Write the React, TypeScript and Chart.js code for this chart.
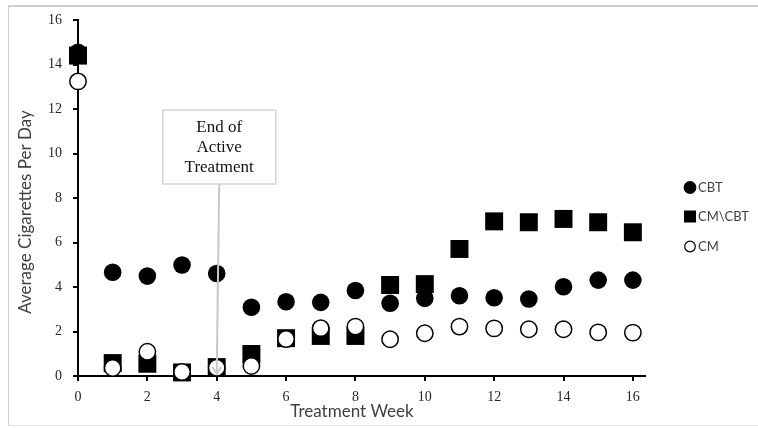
import React, { useEffect, useRef } from "react";
import { Chart, registerables } from "chart.js";

Chart.register(...registerables);

const weeks = [0, 1, 2, 3, 4, 5, 6, 7, 8, 9, 10, 11, 12, 13, 14, 15, 16];
const cbt = [14.55, 4.66, 4.49, 4.99, 4.61, 3.09, 3.34, 3.31, 3.84, 3.27, 3.49, 3.61, 3.52, 3.46, 4.01, 4.31, 4.31];
const cmcbt = [14.4, 0.58, 0.55, 0.16, 0.4, 0.99, 1.7, 1.8, 1.8, 4.09, 4.13, 5.71, 6.95, 6.91, 7.06, 6.91, 6.46];
const cm = [13.24, 0.36, 1.09, 0.18, 0.37, 0.45, 1.66, 2.15, 2.22, 1.65, 1.92, 2.22, 2.14, 2.1, 2.1, 1.96, 1.95];

const seriesNames = ["CBT", "CM\\CBT", "CM"];
const xTicks = [0, 2, 4, 6, 8, 10, 12, 14, 16];
const yTicks = [0, 2, 4, 6, 8, 10, 12, 14, 16];
const xTitle = "Treatment Week";
const yTitle = "Average Cigarettes Per Day";
const annotationLines = ["End of", "Active", "Treatment"];
const annotationWeek = 4;

const toPoints = (vals: number[]) => weeks.map((w, i) => ({ x: w, y: vals[i] }));

const annotationPlugin = {
  id: "endAnnotation",
  afterDatasetsDraw(chart: any) {
    const { ctx, scales } = chart;
    const xs = scales.x;
    const ys = scales.y;
    const cx = xs.getPixelForValue(annotationWeek) + 2.5;
    const top = ys.getPixelForValue(11.95);
    const bottom = ys.getPixelForValue(8.63);
    const w = 113;
    const tipX = xs.getPixelForValue(annotationWeek);
    const tipY = ys.getPixelForValue(0.1);
    ctx.save();
    ctx.strokeStyle = "#c8c8c8";
    ctx.lineWidth = 2;
    ctx.beginPath();
    ctx.moveTo(cx, bottom);
    ctx.lineTo(tipX, tipY);
    ctx.stroke();
    ctx.beginPath();
    ctx.moveTo(tipX - 4.5, tipY - 7);
    ctx.lineTo(tipX, tipY);
    ctx.lineTo(tipX + 4.5, tipY - 7);
    ctx.stroke();
    ctx.fillStyle = "#ffffff";
    ctx.fillRect(cx - w / 2, top, w, bottom - top);
    ctx.strokeStyle = "#d4d4d4";
    ctx.lineWidth = 1.5;
    ctx.strokeRect(cx - w / 2, top, w, bottom - top);
    ctx.fillStyle = "#111";
    ctx.font = '17px "Liberation Serif"';
    ctx.textAlign = "center";
    ctx.textBaseline = "middle";
    annotationLines.forEach((t, i) => {
      ctx.fillText(t, cx, top + 17 + i * 20);
    });
    ctx.restore();
  },
};

const titlesAndLegendPlugin = {
  id: "titlesLegend",
  afterDraw(chart: any) {
    const { ctx } = chart;
    ctx.save();
    // axis titles
    ctx.fillStyle = "#404040";
    ctx.font = "17px Lato";
    ctx.textAlign = "center";
    ctx.textBaseline = "middle";
    ctx.fillText(xTitle, 352, 412);
    ctx.translate(26, 212);
    ctx.rotate(-Math.PI / 2);
    ctx.fillText(yTitle, 0, 0);
    ctx.setTransform(1, 0, 0, 1, 0, 0);
    // legend
    const mx = 690;
    const ys0 = [187.5, 216.5, 246.5];
    chart.data.datasets.forEach((ds: any, i: number) => {
      const y = ys0[i];
      ctx.beginPath();
      if (ds.pointStyle === "rect") {
        ctx.fillStyle = "#000";
        ctx.fillRect(mx - 6, y - 6, 12, 12);
      } else {
        ctx.arc(mx, y, ds.backgroundColor === "#ffffff" ? 5.3 : 5.8, 0, Math.PI * 2);
        ctx.fillStyle = ds.backgroundColor;
        ctx.fill();
        ctx.strokeStyle = "#000";
        ctx.lineWidth = 1.2;
        ctx.stroke();
      }
      ctx.fillStyle = "#404040";
      ctx.font = "13px Lato";
      ctx.textAlign = "left";
      ctx.textBaseline = "middle";
      ctx.fillText(ds.label, mx + 8, y + 0.5);
    });
    ctx.restore();
  },
};

export default function App() {
  const ref = useRef<HTMLCanvasElement>(null);
  useEffect(() => {
    if (!ref.current) return;
    const chart = new Chart(ref.current, {
      type: "scatter",
      data: {
        datasets: [
          {
            label: seriesNames[0],
            data: toPoints(cbt),
            pointStyle: "circle",
            pointRadius: 8.8,
            pointHoverRadius: 8.8,
            backgroundColor: "#000000",
            borderColor: "#000000",
            borderWidth: 0,
            order: 2,
            clip: false as any,
          },
          {
            label: seriesNames[1],
            data: toPoints(cmcbt),
            pointStyle: "rect",
            pointRadius: 12.7,
            pointHoverRadius: 12.7,
            backgroundColor: "#000000",
            borderColor: "#000000",
            borderWidth: 0,
            order: 1,
            clip: false as any,
          },
          {
            label: seriesNames[2],
            data: toPoints(cm),
            pointStyle: "circle",
            pointRadius: 8.2,
            pointHoverRadius: 8.2,
            backgroundColor: "#ffffff",
            borderColor: "#000000",
            borderWidth: 1.5,
            order: 0,
            clip: false as any,
          },
        ],
      },
      options: {
        animation: false,
        responsive: false,
        maintainAspectRatio: false,
        layout: { padding: { left: 0, top: 20, right: 113, bottom: 0 } },
        plugins: { legend: { display: false }, tooltip: { enabled: false } },
        scales: {
          x: {
            type: "linear",
            min: 0,
            max: 16.35,
            afterBuildTicks: (s: any) => {
              s.ticks = xTicks.map((v) => ({ value: v }));
            },
            afterFit: (s: any) => {
              s.height = 52;
            },
            border: { color: "#000", width: 2 },
            grid: { drawOnChartArea: false, drawTicks: true, tickLength: 5, color: "#000", lineWidth: 2 },
            ticks: { padding: 8, color: "#262626", font: { family: "Liberation Serif", size: 14 } },
            title: { display: false, text: xTitle },
          },
          y: {
            type: "linear",
            min: 0,
            max: 16,
            afterBuildTicks: (s: any) => {
              s.ticks = yTicks.map((v) => ({ value: v }));
            },
            afterFit: (s: any) => {
              s.width = 78;
            },
            border: { color: "#000", width: 2 },
            grid: { drawOnChartArea: false, drawTicks: true, tickLength: 5, color: "#000", lineWidth: 2 },
            ticks: { padding: 11, color: "#262626", font: { family: "Liberation Serif", size: 14 } },
            title: { display: false, text: yTitle },
          },
        },
      },
      plugins: [annotationPlugin, titlesAndLegendPlugin],
    });
    return () => chart.destroy();
  }, []);

  return (
    <div style={{ position: "absolute", left: 0, top: 0, width: 758, height: 428, overflow: "hidden", background: "#fff" }}>
      <div
        style={{
          position: "absolute",
          left: 8,
          top: 5,
          width: 770,
          height: 421,
          borderTop: "2px solid #d0d0d0",
          borderLeft: "1.5px solid #cfcfcf",
          borderBottom: "1.5px solid #e0e0e0",
          boxSizing: "border-box",
        }}
      />
      <canvas ref={ref} width={758} height={428} style={{ position: "absolute", left: 0, top: 0, width: 758, height: 428 }} />
    </div>
  );
}
